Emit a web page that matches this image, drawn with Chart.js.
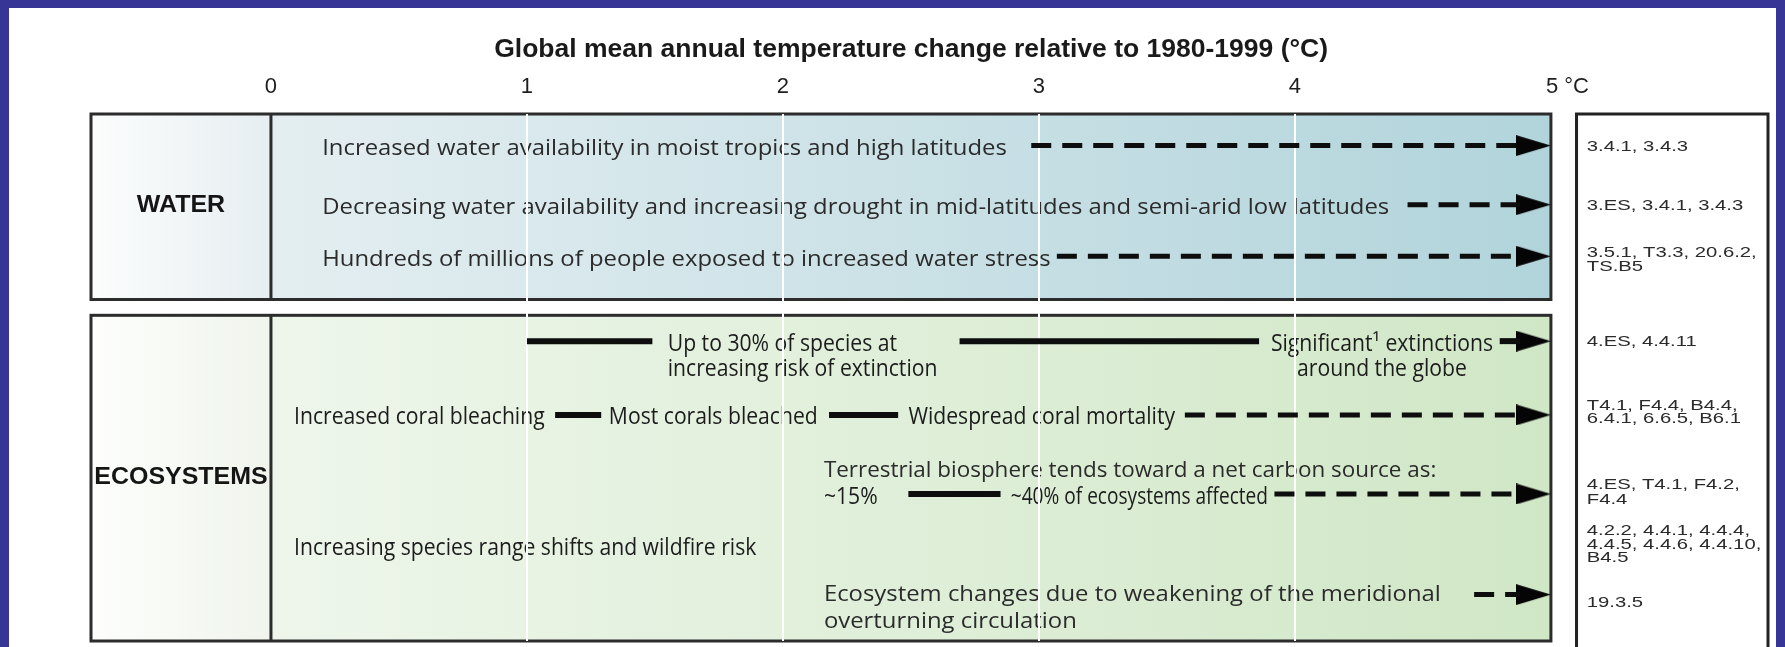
<!DOCTYPE html>
<html lang="en">
<head>
<meta charset="UTF-8">
<title>Key impacts as a function of global mean temperature change</title>
<script src="https://cdn.jsdelivr.net/npm/chart.js@4.4.1/dist/chart.umd.min.js"></script>
<style>
  html, body { margin: 0; padding: 0; background: #373595; }
  .frame { position: absolute; left: 9px; top: 8px; width: 1767px; height: 639px; background: #fff; }
  canvas { display: block; }
</style>
</head>
<body>
<div class="frame"><canvas id="chart" width="1767" height="639"></canvas></div>
<script>
// temperature axis (°C relative to 1980-1999)
const tickValues = [0, 1, 2, 3, 4, 5];
const tickLabels = ['0', '1', '2', '3', '4', '\u2003\u20025 °C'];

// sectors, rows counted from the top of the table (0) to its bottom (10)
const sectorNames = ['WATER', 'ECOSYSTEMS'];
const sectorTop = [0, 3.82];
const sectorBottom = [3.52, 10];
const sectorLabelY = [1.72, 6.87];

// impact statements: text, temperature where it sits, row
const impactText = [
  'Increased water availability in moist tropics and high latitudes',
  'Decreasing water availability and increasing drought in mid-latitudes and semi-arid low latitudes',
  'Hundreds of millions of people exposed to increased water stress',
  'Up to 30% of species at',
  'increasing risk of extinction',
  'Significant\u00b9 extinctions',
  'around the globe',
  'Increased coral bleaching',
  'Most corals bleached',
  'Widespread coral mortality',
  'Terrestrial biosphere tends toward a net carbon source as:',
  '~15%',
  '~40% of ecosystems affected',
  'Increasing species range shifts and wildfire risk',
  'Ecosystem changes due to weakening of the meridional',
  'overturning circulation'
];
const impactX = [0.20, 0.20, 0.20, 1.55, 1.55, 4.34, 4.34, 0.09, 1.32, 2.49, 2.16, 2.16, 2.89, 0.09, 2.16, 2.16];
const impactY = [0.60, 1.72, 2.70, 4.31, 4.79, 4.31, 4.79, 5.71, 5.71, 5.71, 6.72, 7.21, 7.21, 8.18, 9.06, 9.57];

// solid transitions
const solidFrom = [1.00, 2.69, 4.80, 1.11, 2.18, 2.49];
const solidTo   = [1.49, 3.86, 4.88, 1.29, 2.45, 2.85];
const solidY    = [4.31, 4.31, 4.31, 5.71, 5.71, 7.21];

// dashed continuations
const dashFrom = [2.97, 4.44, 3.07, 3.57, 3.92, 4.70];
const dashTo   = [4.88, 4.88, 4.88, 4.88, 4.88, 4.88];
const dashY    = [0.60, 1.72, 2.70, 5.71, 7.21, 9.12];

// arrow heads at the end of each impact
const arrowX = [5, 5, 5, 5, 5, 5, 5];
const arrowY = [0.60, 1.72, 2.70, 4.31, 5.71, 7.21, 9.12];

// chapter references
const refLines = [
  '3.4.1, 3.4.3',
  '3.ES, 3.4.1, 3.4.3',
  '3.5.1, T3.3, 20.6.2,', 'TS.B5',
  '4.ES, 4.4.11',
  'T4.1, F4.4, B4.4,', '6.4.1, 6.6.5, B6.1',
  '4.ES, T4.1, F4.2,', 'F4.4',
  '4.2.2, 4.4.1, 4.4.4,', '4.4.5, 4.4.6, 4.4.10,', 'B4.5',
  '19.3.5'
];
const refY = [0.60, 1.72, 2.62, 2.88, 4.31, 5.52, 5.77, 7.02, 7.30, 7.90, 8.15, 8.41, 9.25];

// layout and styles
const xMin = -0.703, xMax = 5.848;
const refBoxFrom = 5.10, refTextX = 5.14;
const centredText = [5, 6];
const wideText = [0, 1, 2, 10, 14, 15];
const squeeze = { 10: 1.02, 12: 0.83 };

const waterCell = ['#fcfdfd', '#e6eef1'];
const waterBand = ['#e4eef1', '#b1d4db'];
const ecoCell = ['#fdfefc', '#eff4ec'];
const ecoBand = ['#eef6eb', '#d0e7c6'];

function arrowHead(len, h) {
  const c = document.createElement('canvas');
  c.width = len * 2;
  c.height = h;
  const g = c.getContext('2d');
  g.fillStyle = '#050505';
  g.beginPath();
  g.moveTo(0, 0);
  g.lineTo(len, h / 2);
  g.lineTo(0, h);
  g.closePath();
  g.fill();
  return c;
}

function drawText(ctx, str, x, y, font, color, scaleX, align) {
  ctx.save();
  ctx.font = font;
  ctx.fillStyle = color;
  ctx.textBaseline = 'middle';
  ctx.textAlign = align;
  ctx.translate(x, y);
  ctx.scale(scaleX, 1);
  ctx.fillText(str, 0, 0);
  ctx.restore();
}

const tablePlugin = {
  id: 'table',
  beforeDraw(chart) {
    const ctx = chart.ctx;
    const xs = chart.scales.x, ys = chart.scales.y;
    const left = chart.chartArea.left;
    const x0 = xs.getPixelForValue(0);
    const x5 = xs.getPixelForValue(5);

    sectorNames.forEach((name, s) => {
      const top = ys.getPixelForValue(sectorTop[s]);
      const bottom = ys.getPixelForValue(sectorBottom[s]);
      const cell = s === 0 ? waterCell : ecoCell;
      const band = s === 0 ? waterBand : ecoBand;

      let g = ctx.createLinearGradient(left, 0, x0, 0);
      g.addColorStop(0, cell[0]);
      g.addColorStop(1, cell[1]);
      ctx.fillStyle = g;
      ctx.fillRect(left, top, x0 - left, bottom - top);

      g = ctx.createLinearGradient(x0, 0, x5, 0);
      g.addColorStop(0, band[0]);
      g.addColorStop(1, band[1]);
      ctx.fillStyle = g;
      ctx.fillRect(x0, top, x5 - x0, bottom - top);

      ctx.strokeStyle = '#2c2c2c';
      ctx.lineWidth = 3;
      ctx.strokeRect(left, top, x5 - left, bottom - top);
      ctx.beginPath();
      ctx.moveTo(x0, top);
      ctx.lineTo(x0, bottom);
      ctx.stroke();

      drawText(ctx, name, (left + x0) / 2, ys.getPixelForValue(sectorLabelY[s]) + 1,
        'bold 24px "Liberation Sans", Arial, sans-serif', '#151515', 1.04, 'center');
    });

    // references box
    const rl = xs.getPixelForValue(refBoxFrom);
    const rr = chart.chartArea.right;
    const rt = ys.getPixelForValue(0);
    ctx.strokeStyle = '#222';
    ctx.lineWidth = 3;
    ctx.strokeRect(rl, rt, rr - rl, chart.height + 10 - rt);
    refLines.forEach((t, i) => {
      drawText(ctx, t, xs.getPixelForValue(refTextX), ys.getPixelForValue(refY[i]) + 1,
        '15px "Liberation Sans", Arial, sans-serif', '#2a2a2a', 1.35, 'left');
    });

    // impact statements
    impactText.forEach((t, i) => {
      const wide = wideText.includes(i);
      const font = wide ? '22px "Open Sans", sans-serif' : '23px "Open Sans", sans-serif';
      const align = centredText.includes(i) ? 'center' : 'left';
      const sx = squeeze[i] || (wide ? 1.085 : 0.92);
      drawText(ctx, t, xs.getPixelForValue(impactX[i]), ys.getPixelForValue(impactY[i]) + 3,
        font, wide ? '#2b2b2b' : '#1c1c1c', sx, align);
    });
  }
};

const segment = (from, to, y) => [{ x: from, y: y }, { x: to, y: y }];

const datasets = [];
solidFrom.forEach((f, i) => datasets.push({
  data: segment(f, solidTo[i], solidY[i]),
  showLine: true, borderColor: '#0d0d0d', borderWidth: 6, pointRadius: 0, borderCapStyle: 'butt'
}));
dashFrom.forEach((f, i) => datasets.push({
  data: segment(f, dashTo[i], dashY[i]),
  showLine: true, borderColor: '#0d0d0d', borderWidth: 5, borderDash: [20, 11], pointRadius: 0, borderCapStyle: 'butt'
}));
datasets.push({
  data: arrowX.map((x, i) => ({ x: x, y: arrowY[i] })),
  pointStyle: arrowHead(35, 21), pointRadius: 5, showLine: false
});

new Chart(document.getElementById('chart'), {
  type: 'scatter',
  data: { datasets: datasets },
  plugins: [tablePlugin],
  options: {
    responsive: false,
    animation: false,
    events: [],
    layout: { padding: { left: 82, right: 8, top: 0, bottom: 3 } },
    plugins: { legend: { display: false }, tooltip: { enabled: false } },
    scales: {
      x: {
        type: 'linear',
        position: 'top',
        min: xMin,
        max: xMax,
        afterBuildTicks: scale => { scale.ticks = tickValues.map(v => ({ value: v })); },
        afterFit: scale => { scale.height = 106; },
        ticks: {
          padding: 14,
          color: '#1e1e1e',
          font: { family: '"Liberation Sans", Arial, sans-serif', size: 22 },
          callback: v => tickLabels[tickValues.indexOf(v)]
        },
        grid: {
          drawTicks: false,
          lineWidth: 2,
          color: c => (c.tick && c.tick.value > 0 && c.tick.value < 5) ? '#ffffff' : 'rgba(0,0,0,0)'
        },
        border: { display: false },
        title: {
          display: true,
          // trailing spaces nudge the centred title a little to the left, as in the original
          text: 'Global mean annual temperature change relative to 1980-1999 (°C)     ',
          color: '#1a1a1a',
          font: { family: '"Liberation Sans", Arial, sans-serif', size: 26.5, weight: 'bold' },
          padding: { top: 26, bottom: 0 }
        }
      },
      y: { type: 'linear', reverse: true, min: 0, max: 10, display: false }
    }
  }
});
</script>
</body>
</html>
